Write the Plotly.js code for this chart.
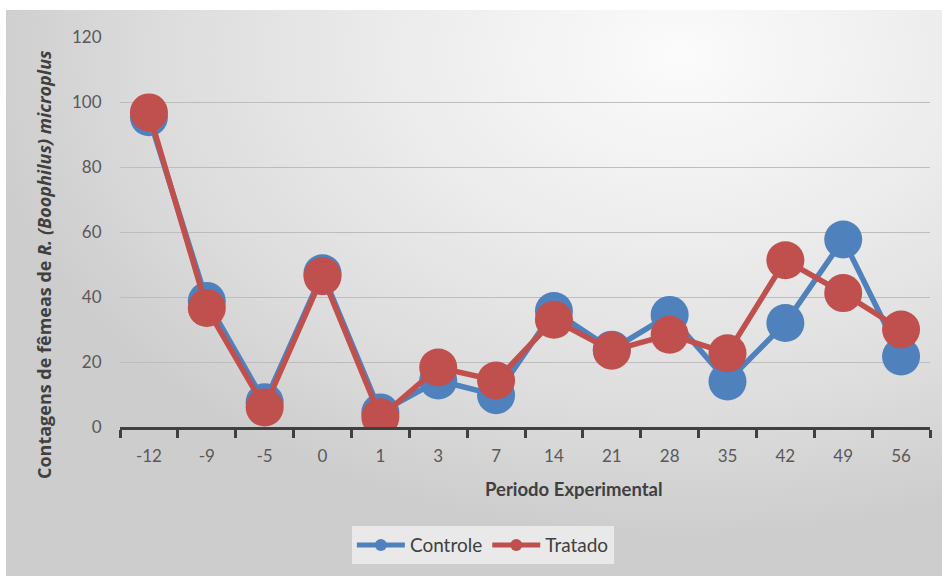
<!DOCTYPE html>
<html>
<head>
<meta charset="utf-8">
<script src="https://cdn.plot.ly/plotly-3.0.1.min.js"></script>
<style>
  html, body { margin: 0; padding: 0; background: #ffffff; width: 942px; height: 576px; overflow: hidden; }
  #bg { position: absolute; left: 6px; top: 10px; width: 936px; height: 566px;
        background: radial-gradient(ellipse 75% 85% at 72% 8%, #fbfbfb 0%, #ececec 40%, #dcdcdc 75%, #cdcdcd 100%); }
  #chart { position: absolute; left: 0; top: 0; width: 942px; height: 576px; }
</style>
</head>
<body>
<div id="bg"></div>
<div id="chart"></div>
<script>
const categories = ["-12", "-9", "-5", "0", "1", "3", "7", "14", "21", "28", "35", "42", "49", "56"];
const controle = [95.3, 38.8, 7.6, 47.3, 4.5, 14.3, 9.8, 35.7, 23.8, 34.5, 14, 32, 57.7, 21.7];
const tratado  = [96.8, 36.6, 6, 46.4, 3, 18.3, 14.3, 33, 23.5, 28.4, 22.7, 51.3, 41.2, 30];
const yTicks = [0, 20, 40, 60, 80, 100, 120];

const blue = "#4f81bd";
const red = "#c0504d";

const traces = [
  { x: categories, y: controle, name: "Controle", type: "scatter", mode: "lines+markers",
    line: { color: blue, width: 5.5 }, marker: { color: blue, size: 38 } },
  { x: categories, y: tratado, name: "Tratado", type: "scatter", mode: "lines+markers",
    line: { color: red, width: 5.5 }, marker: { color: red, size: 38 } }
];

const layout = {
  width: 942, height: 576,
  paper_bgcolor: "rgba(0,0,0,0)", plot_bgcolor: "rgba(0,0,0,0)",
  margin: { l: 120, r: 12, t: 37, b: 145 },
  font: { family: "Lato, 'Open Sans', sans-serif", color: "#595959", size: 17 },
  xaxis: {
    type: "category", categoryorder: "array", categoryarray: categories,
    range: [-0.5, 13.5],
    showline: true, linecolor: "#404040", linewidth: 3,
    ticks: "outside", tickson: "boundaries", ticklen: 8, tickwidth: 3, tickcolor: "#404040",
    ticklabelstandoff: 12,
    showgrid: false, zeroline: false,
    tickfont: { size: 17, color: "#595959" }
  },
  yaxis: {
    range: [0, 120], tickvals: yTicks,
    showgrid: true, gridcolor: "#bdbdbd", gridwidth: 1,
    zeroline: false, showline: false,
    ticks: "outside", ticklen: 14, tickcolor: "rgba(0,0,0,0)",
    tickfont: { size: 17, color: "#595959" }
  },
  showlegend: true,
  legend: {
    orientation: "h", x: 0.448, xanchor: "center", y: -0.254, yanchor: "top",
    bgcolor: "#e9e9e9", itemsizing: "constant", itemwidth: 48,
    font: { size: 19, color: "#404040" }
  },
  annotations: [
    { text: "Contagens de fêmeas de <i>R. (Boophilus) microplus</i>", textangle: -90,
      xref: "paper", yref: "paper", x: -0.093, y: 0.417, xanchor: "center", yanchor: "middle",
      showarrow: false, font: { size: 18, color: "#404040", family: "'Open Sans', Lato, sans-serif", weight: "bold" } },
    { text: "<b>Periodo Experimental</b>", xref: "paper", yref: "paper",
      x: 0.56, y: -0.16, xanchor: "center", yanchor: "middle", showarrow: false,
      font: { size: 18.5, color: "#404040", family: "Lato, sans-serif" } }
  ]
};

Plotly.newPlot("chart", traces, layout, { displayModeBar: false, staticPlot: true });
</script>
</body>
</html>
